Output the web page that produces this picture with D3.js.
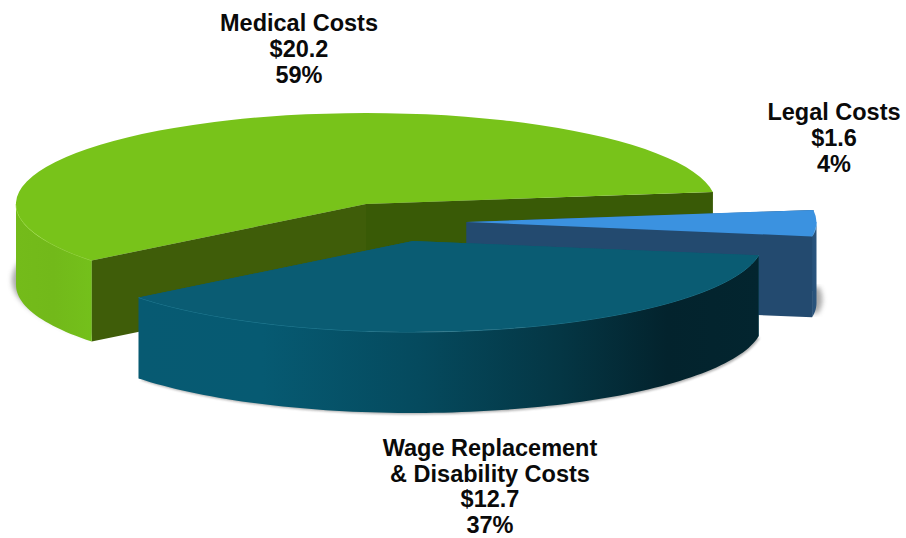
<!DOCTYPE html>
<html>
<head>
<meta charset="utf-8">
<script src="https://cdnjs.cloudflare.com/ajax/libs/d3/7.8.5/d3.min.js"></script>
<style>
html,body{margin:0;padding:0;background:#fff;}
svg{display:block;}
text{font-family:"Liberation Sans",Arial,sans-serif;font-weight:700;fill:#0a0a0a;}
</style>
</head>
<body>
<svg id="chart" width="906" height="538"></svg>
<script>
// Cost breakdown, in billions of dollars
const categories = ["Medical Costs", "Legal Costs", "Wage Replacement & Disability Costs"];
const values = [20.2, 1.6, 12.7];
const shares = ["59%", "4%", "37%"];
const nameLines = [["Medical Costs"], ["Legal Costs"], ["Wage Replacement", "& Disability Costs"]];

const width = 906, height = 538;
const rx = 350, ry = 91, depth = 81;
const deg = Math.PI / 180;

// Each wedge is pulled out of the pie to its own hub.
const hubs = [[366, 204], [466.5, 222], [413, 241]];
const labelAnchors = [[299, 31], [834, 120], [490, 456]];
const lineSteps = [26, 26, 25.5];

const topFill = ["#78c31a", "#3b92e0", "#0a5c73"];
const cutFill = [["#3f5d09", "#395a06"], ["#234a6f", "#234a6f"], ["#0a5c73", "#0a5c73"]];
const rimStroke = ["#a5e44a", "#6db6f2", "#2f8aa2"];

const svg = d3.select("#chart");
const defs = svg.append("defs");

const blur = (id, s) => defs.append("filter").attr("id", id)
  .attr("x", "-5%").attr("y", "-10%").attr("width", "110%").attr("height", "120%")
  .append("feGaussianBlur").attr("stdDeviation", s);
blur("soft", 2.4);
blur("softer", 1.2);

const wallGradient = (id, x1, x2, stops) => {
  const g = defs.append("linearGradient").attr("id", id)
    .attr("gradientUnits", "userSpaceOnUse")
    .attr("x1", x1).attr("x2", x2).attr("y1", 0).attr("y2", 0);
  stops.forEach(([o, c]) => g.append("stop").attr("offset", o).attr("stop-color", c));
};
wallGradient("wall0", 15, 92, [[0, "#74bb1a"], [0.5, "#72b91a"], [1, "#74c01b"]]);
wallGradient("wall1", 805, 818, [[0, "#234a6f"], [1, "#2a5680"]]);
wallGradient("wall2", 138, 760, [
  [0, "#075a72"], [0.2, "#065a72"], [0.45, "#054a5e"],
  [0.68, "#043644"], [0.85, "#03232d"], [1, "#03252f"]
]);

const pie = d3.pie().sort(null).startAngle(-128.4 * deg).endAngle(231.6 * deg);
const slices = pie(values);

// Unit arc; the ellipse comes from scaling it on the way to each hub.
const unitArc = d3.arc().innerRadius(0).outerRadius(1);
const px = (i, a) => hubs[i][0] + rx * Math.sin(a);
const py = (i, a) => hubs[i][1] - ry * Math.cos(a);
const steps = (a0, a1) => {
  const n = Math.max(2, Math.ceil(Math.abs(a1 - a0) / (1.5 * deg)));
  return d3.range(n + 1).map(k => a0 + (a1 - a0) * k / n);
};

const wallArea = i => d3.area()
  .x(a => px(i, a)).y0(a => py(i, a)).y1(a => py(i, a) + depth);
const rimLine = i => d3.line().x(a => px(i, a)).y(a => py(i, a));

slices.forEach((s, i) => {
  const [hx, hy] = hubs[i];
  const g = svg.append("g").attr("class", "slice");

  // Soft ground shadows beside the wedge bases; the blur sits on an unscaled wrapper
  const shadow = [[-4, -5, "soft", 0.5], [6, -4, "soft", 0.5], [1.5, 1.5, "softer", 0.45]][i];
  g.append("g")
    .attr("filter", `url(#${shadow[2]})`)
    .attr("opacity", shadow[3])
    .append("path")
    .attr("d", unitArc(s))
    .attr("transform", `translate(${hx + shadow[0]},${hy + depth + shadow[1]}) scale(${rx},${ry})`)
    .attr("fill", "#555");

  // Cut faces running back to the hub
  [s.startAngle, s.endAngle].forEach((a, k) => {
    const pts = [[hx, hy], [px(i, a), py(i, a)], [px(i, a), py(i, a) + depth], [hx, hy + depth]];
    g.append("path").attr("d", d3.line()(pts) + "Z").attr("fill", cutFill[i][k]);
  });

  // Curved outer wall on the part of the rim that faces the viewer
  const a0 = Math.max(s.startAngle, 90 * deg), a1 = Math.min(s.endAngle, 270 * deg);
  const ranges = [];
  if (a1 > a0) ranges.push([a0, a1]);
  const b1 = Math.min(s.endAngle, -90 * deg);
  if (b1 > s.startAngle) ranges.push([s.startAngle, b1]);
  ranges.forEach(([u, v]) => {
    g.append("path").attr("d", wallArea(i)(steps(u, v))).attr("fill", `url(#wall${i})`);
    g.append("path").attr("d", rimLine(i)(steps(u, v)))
      .attr("fill", "none").attr("stroke", rimStroke[i]).attr("stroke-width", 1).attr("opacity", 0.7);
  });

  // Top face
  g.append("path")
    .attr("d", unitArc(s))
    .attr("transform", `translate(${hx},${hy}) scale(${rx},${ry})`)
    .attr("fill", topFill[i]);
});

// Labels: name lines, then dollar amount, then share
categories.forEach((name, i) => {
  const lines = [...nameLines[i], `$${values[i].toFixed(1)}`, shares[i]];
  svg.append("text")
    .attr("text-anchor", "middle")
    .attr("font-size", 23.5)
    .selectAll("tspan").data(lines).join("tspan")
    .attr("x", labelAnchors[i][0])
    .attr("y", (d, k) => labelAnchors[i][1] + k * lineSteps[i])
    .text(d => d);
});
</script>
</body>
</html>
